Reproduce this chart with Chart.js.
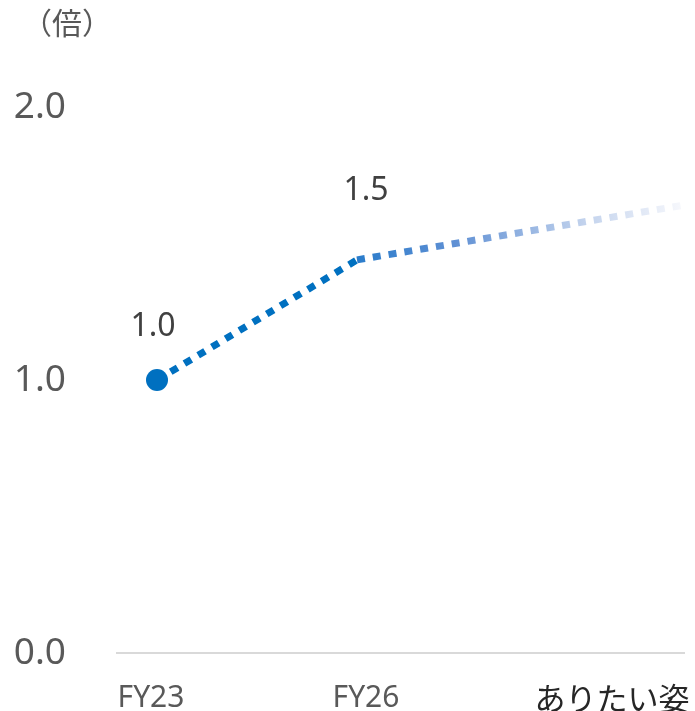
<!DOCTYPE html>
<html>
<head>
<meta charset="utf-8">
<script src="https://cdn.jsdelivr.net/npm/chart.js@4"></script>
<style>
  html, body { margin: 0; padding: 0; background: #fff; }
  #wrap { width: 695px; height: 711px; }
</style>
</head>
<body>
<div id="wrap"><canvas id="graphic"></canvas></div>
<script>
// values
const xLabels = ['FY23', 'FY26', 'ありたい姿'];
const xTickPos = [-0.03, 1.045, 2.275];
const xPoints = [0, 1, 2.63];
const values = [1.0, 1.44, 1.64];
const valueLabels = ['1.0', '1.5', ''];
const yTicks = [0, 1, 2];
const unitLabel = '（倍）';

const blue = '#0070C0';

// fading tail after FY26
function tailColor(ctx) {
    const chart = ctx.chart;
    const x0 = ctx.p0.x, x1 = ctx.p1.x;
    const g = chart.ctx.createLinearGradient(x0, 0, x1, 0);
    g.addColorStop(0, '#2a7ccb');
    g.addColorStop(0.3, '#5f90d4');
    g.addColorStop(0.7, '#c3d3ed');
    g.addColorStop(1, '#f7f8fc');
    return g;
}

//draw the unit text and the value labels
const textPlugin = {
    id: 'texts',
    afterDatasetsDraw(chart) {
        const c = chart.ctx;
        c.save();
        c.textAlign = 'center';
        c.textBaseline = 'middle';
        c.fillStyle = '#595959';
        c.font = '30px "Noto Sans CJK JP"';
        c.fillText(unitLabel, 67, 23);

        const meta = chart.getDatasetMeta(0);
        const offs = [[-4, -53], [9, -69]];
        c.fillStyle = '#404040';
        c.font = '32px "Noto Sans"';
        meta.data.forEach((pt, i) => {
            if (!valueLabels[i]) return;
            c.fillText(valueLabels[i], pt.x + offs[i][0], pt.y + offs[i][1]);
        });
        c.restore();
    }
};

const chartElement = document.getElementById('graphic');
const newChart = new Chart(chartElement, {
    type: 'line',
    data: {
        datasets: [{
            data: xPoints.map((x, i) => ({ x: x, y: values[i] })),
            borderColor: blue,
            borderWidth: 7,
            borderDash: [8, 8],
            borderCapStyle: 'butt',
            tension: 0,
            pointRadius: values.map((v, i) => i === 0 ? 11 : 0),
            pointBackgroundColor: blue,
            pointBorderWidth: 0,
            clip: false,
            segment: {
                borderColor: ctx => ctx.p0DataIndex === 0 ? blue : tailColor(ctx)
            }
        }]
    },
    options: {
        responsive: true,
        maintainAspectRatio: false,
        animation: false,
        layout: {
            padding: { top: 107, left: 12, right: 11, bottom: 0 }
        },
        plugins: {
            legend: { display: false },
            tooltip: { enabled: false }
        },
        scales: {
            x: {
                type: 'linear',
                min: -0.2,
                max: 2.635,
                grid: { display: false },
                border: { display: true, color: '#d9d9d9', width: 2 },
                afterBuildTicks: axis => {
                    axis.ticks = xTickPos.map(v => ({ value: v }));
                },
                afterFit: axis => {
                    axis.height = 58;
                    axis.paddingLeft = 0;
                    axis.paddingRight = 0;
                },
                ticks: {
                    autoSkip: false,
                    maxRotation: 0,
                    padding: 19,
                    callback: (v, i) => xLabels[i],
                    color: ctx => ctx.index === 2 ? '#262626' : '#595959',
                    font: ctx => ctx.index === 2
                        ? { family: '"Noto Sans CJK JP"', size: 31 }
                        : { family: '"Noto Sans"', size: 30 }
                }
            },
            y: {
                min: 0,
                max: 2,
                grid: { display: false },
                border: { display: false },
                afterBuildTicks: axis => {
                    axis.ticks = yTicks.map(v => ({ value: v }));
                },
                afterFit: axis => {
                    axis.width = 105;
                    axis.paddingTop = 0;
                    axis.paddingBottom = 0;
                },
                ticks: {
                    padding: 43,
                    color: '#595959',
                    font: { family: '"Noto Sans"', size: 37 },
                    callback: v => v.toFixed(1)
                }
            }
        }
    },
    plugins: [textPlugin]
});
</script>
</body>
</html>
